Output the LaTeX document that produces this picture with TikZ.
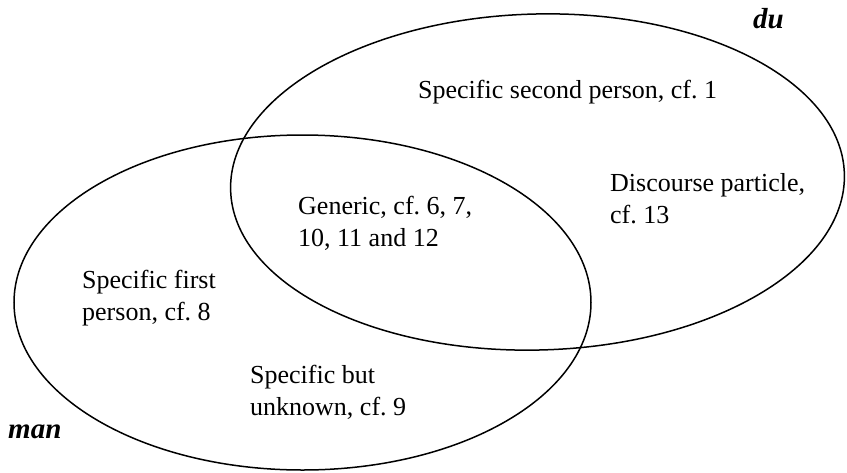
\documentclass[tikz,border=0pt]{standalone}
\usepackage{fontspec}
\setmainfont{Liberation Serif}
\frenchspacing
\begin{document}
\begin{tikzpicture}[x=1pt,y=-1pt,
  setline/.style={line width=1.5pt},
  lbl/.style={anchor=base west,inner sep=0pt,align=left,font=\fontsize{26}{31.5}\selectfont\frenchspacing},
  setname/.style={anchor=base west,inner sep=0pt,font=\fontsize{29}{31}\selectfont\bfseries\itshape}]
\useasboundingbox (0,0) rectangle (847,472);
\draw[setline] (537.5,182) ellipse [x radius=307, y radius=168, rotate=1.5];
\draw[setline] (302.5,302.5) ellipse [x radius=288.5, y radius=167.5];
\node[setname] (du) at (753,28) {du};
\node[setname] (man) at (8,438) {man};
\node[lbl] (second) at (418,98) {Specific second person, cf. 1};
\node[lbl] (disc) at (610,223) {Discourse particle,\\cf. 13};
\node[lbl] (gen) at (298,246) {Generic, cf. 6, 7,\\10, 11 and 12};
\node[lbl] (first) at (82,320) {Specific first\\person, cf. 8};
\node[lbl] (unk) at (250,415) {Specific but\\unknown, cf. 9};
\end{tikzpicture}
\end{document}
